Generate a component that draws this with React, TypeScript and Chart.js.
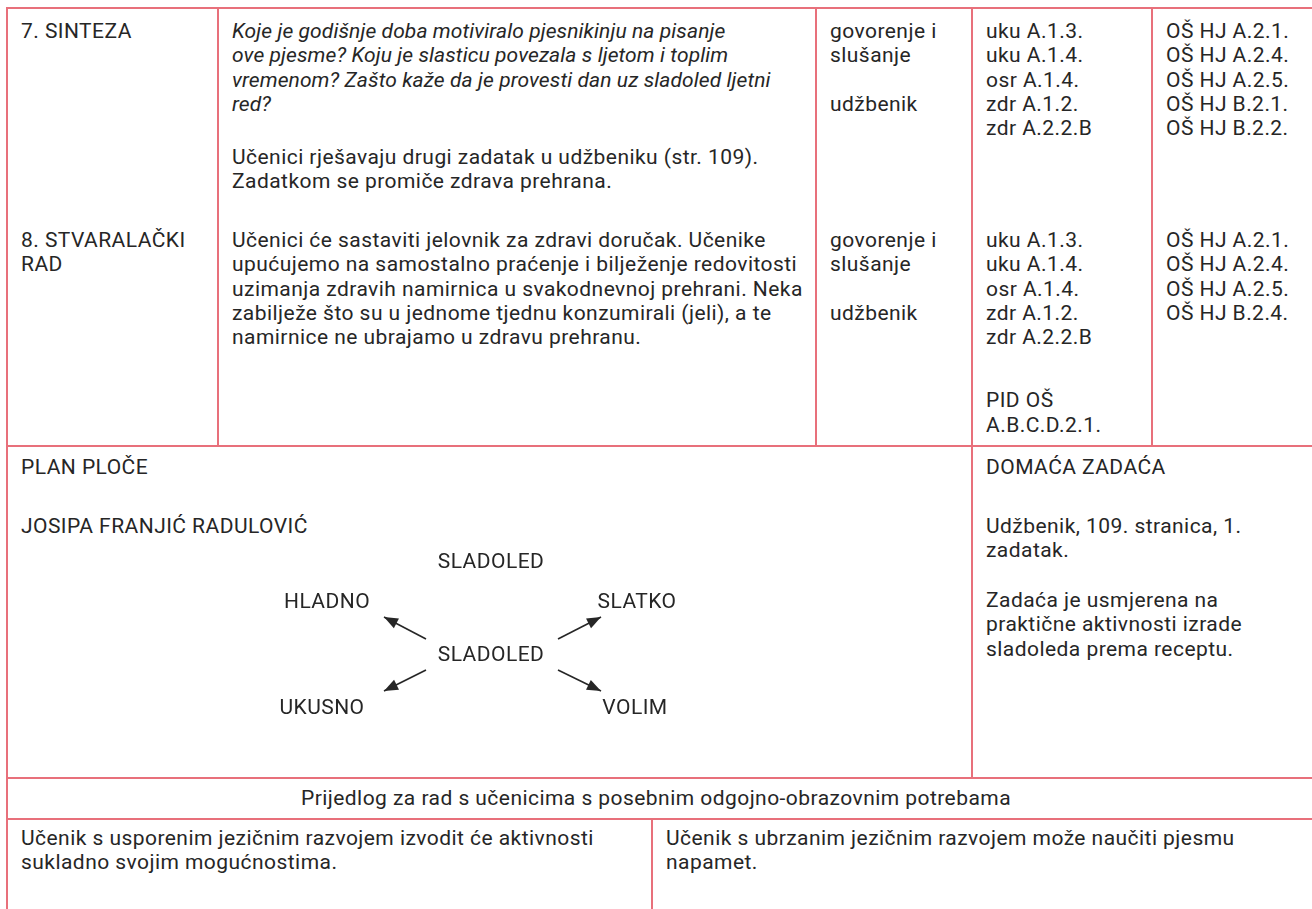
import React, { useEffect, useRef } from "react";
import { Chart, registerables } from "chart.js";

Chart.register(...registerables);

// ---------- text content ----------
const row7Stage = ["7. SINTEZA"];
const row7Questions = [
  "Koje je godišnje doba motiviralo pjesnikinju na pisanje",
  "ove pjesme? Koju je slasticu povezala s ljetom i toplim",
  "vremenom? Zašto kaže da je provesti dan uz sladoled ljetni",
  "red?",
];
const row7Task = [
  "Učenici rješavaju drugi zadatak u udžbeniku (str. 109).",
  "Zadatkom se promiče zdrava prehrana.",
];
const row7Forms = ["govorenje i", "slušanje"];
const row7Media = ["udžbenik"];
const row7Outcomes = ["uku A.1.3.", "uku A.1.4.", "osr A.1.4.", "zdr A.1.2.", "zdr A.2.2.B"];
const row7Standards = ["OŠ HJ A.2.1.", "OŠ HJ A.2.4.", "OŠ HJ A.2.5.", "OŠ HJ B.2.1.", "OŠ HJ B.2.2."];

const row8Stage = ["8. STVARALAČKI", "RAD"];
const row8Activity = [
  "Učenici će sastaviti jelovnik za zdravi doručak. Učenike",
  "upućujemo na samostalno praćenje i bilježenje redovitosti",
  "uzimanja zdravih namirnica u svakodnevnoj prehrani. Neka",
  "zabilježe što su u jednome tjednu konzumirali (jeli), a te",
  "namirnice ne ubrajamo u zdravu prehranu.",
];
const row8Forms = ["govorenje i", "slušanje"];
const row8Media = ["udžbenik"];
const row8Outcomes = ["uku A.1.3.", "uku A.1.4.", "osr A.1.4.", "zdr A.1.2.", "zdr A.2.2.B"];
const row8Outcomes2 = ["PID OŠ", "A.B.C.D.2.1."];
const row8Standards = ["OŠ HJ A.2.1.", "OŠ HJ A.2.4.", "OŠ HJ A.2.5.", "OŠ HJ B.2.4."];

const planTitle = ["PLAN PLOČE"];
const planAuthor = ["JOSIPA FRANJIĆ RADULOVIĆ"];
const homeworkTitle = ["DOMAĆA ZADAĆA"];
const homeworkText1 = ["Udžbenik, 109. stranica, 1.", "zadatak."];
const homeworkText2 = ["Zadaća je usmjerena na", "praktične aktivnosti izrade", "sladoleda prema receptu."];

const needsTitle = "Prijedlog za rad s učenicima s posebnim odgojno-obrazovnim potrebama";
const needsSlow = ["Učenik s usporenim jezičnim razvojem izvodit će aktivnosti", "sukladno svojim mogućnostima."];
const needsFast = ["Učenik s ubrzanim jezičnim razvojem može naučiti pjesmu", "napamet."];

// ---------- board diagram (data units, centre word at 0,0) ----------
const boardWords = ["SLADOLED", "HLADNO", "SLATKO", "SLADOLED", "UKUSNO", "VOLIM"];
const boardX = [0, -16.4, 14.6, 0, -16.9, 14.4];
const boardY = [9.3, 5.3, 5.3, 0, -5.3, -5.3];
const arrowFromX = [-6.5, 6.7, -6.5, 6.7];
const arrowFromY = [1.5, 1.5, -1.6, -1.6];
const arrowToX = [-10.7, 11.0, -10.7, 11.0];
const arrowToY = [3.7, 3.7, -3.7, -3.7];

// ---------- style ----------
const FONT = "Roboto, 'Noto Sans', sans-serif";
const FS = 21;
const LS = 0.45;
const LH = 24.4;
const PGAP = 2 * LH; // one empty line between paragraphs
const INK = "#262626";
const RULE = "#e8707b";

type Para = { lines: string[]; italic?: boolean; gap?: number };

function Block({ x, cy, paras }: { x: number; cy: number; paras: Para[] }) {
  const out: React.ReactNode[] = [];
  let y = cy;
  paras.forEach((p, pi) => {
    if (pi > 0) y += (p.gap ?? PGAP) - LH;
    p.lines.forEach((t, li) => {
      out.push(
        <div
          key={pi + "-" + li}
          style={{
            position: "absolute",
            left: x,
            top: y - LH / 2,
            height: LH,
            lineHeight: LH + "px",
            whiteSpace: "pre",
            fontStyle: p.italic ? "italic" : "normal",
            letterSpacing: p.italic ? "0.1px" : LS + "px",
          }}
        >
          {t}
        </div>
      );
      y += LH;
    });
  });
  return <>{out}</>;
}

function HLine({ y, x1, x2 }: { y: number; x1: number; x2: number }) {
  return <div style={{ position: "absolute", left: x1, top: y - 1, width: x2 - x1, height: 2, background: RULE }} />;
}
function VLine({ x, y1, y2 }: { x: number; y1: number; y2: number }) {
  return <div style={{ position: "absolute", left: x - 1, top: y1, width: 2, height: y2 - y1, background: RULE }} />;
}

function BoardDiagram() {
  const ref = useRef<HTMLCanvasElement | null>(null);
  useEffect(() => {
    if (!ref.current) return;
    const wordData = boardWords.map((w, i) => ({ x: boardX[i], y: boardY[i] }));
    const arrowSets = arrowFromX.map((_, i) => ({
      type: "line" as const,
      data: [
        { x: arrowFromX[i], y: arrowFromY[i] },
        { x: arrowToX[i], y: arrowToY[i] },
      ],
      showLine: true,
      borderColor: INK,
      borderWidth: 1.6,
      pointRadius: 0,
      fill: false,
    }));
    const labelsPlugin = {
      id: "boardLabels",
      afterDatasetsDraw(chart: any) {
        const ctx = chart.ctx;
        const xs = chart.scales.x;
        const ys = chart.scales.y;
        ctx.save();
        ctx.fillStyle = INK;
        arrowFromX.forEach((_, i) => {
          const x0 = xs.getPixelForValue(arrowFromX[i]);
          const y0 = ys.getPixelForValue(arrowFromY[i]);
          const x1 = xs.getPixelForValue(arrowToX[i]);
          const y1 = ys.getPixelForValue(arrowToY[i]);
          const a = Math.atan2(y1 - y0, x1 - x0);
          const L = 14;
          const W = 5.5;
          const bx = x1 - L * Math.cos(a);
          const by = y1 - L * Math.sin(a);
          ctx.beginPath();
          ctx.moveTo(x1, y1);
          ctx.lineTo(bx + W * Math.sin(a), by - W * Math.cos(a));
          ctx.lineTo(bx - W * Math.sin(a), by + W * Math.cos(a));
          ctx.closePath();
          ctx.fill();
        });
        ctx.font = `${FS}px ${FONT}`;
        try {
          (ctx as any).letterSpacing = LS + "px";
        } catch (e) {}
        ctx.textAlign = "center";
        ctx.textBaseline = "alphabetic";
        wordData.forEach((p, i) => {
          const px = xs.getPixelForValue(p.x);
          const py = ys.getPixelForValue(p.y);
          ctx.fillText(boardWords[i], px, py + FS * 0.355);
        });
        ctx.restore();
      },
    };
    const chart = new Chart(ref.current, {
      type: "scatter",
      data: {
        datasets: [
          { type: "scatter", data: wordData, pointRadius: 0, backgroundColor: "transparent" } as any,
          ...(arrowSets as any[]),
        ],
      },
      options: {
        animation: false,
        responsive: false,
        maintainAspectRatio: false,
        events: [],
        layout: { padding: 0 },
        plugins: { legend: { display: false }, tooltip: { enabled: false } },
        scales: {
          x: { type: "linear", min: -24, max: 24, display: false },
          y: { type: "linear", min: -12, max: 12, display: false },
        },
      },
      plugins: [labelsPlugin],
    });
    return () => chart.destroy();
  }, []);
  return (
    <canvas
      ref={ref}
      width={480}
      height={240}
      style={{ position: "absolute", left: 251, top: 534, width: 480, height: 240 }}
    />
  );
}

export default function App() {
  return (
    <div
      style={{
        position: "absolute",
        left: 0,
        top: 0,
        width: 1312,
        height: 909,
        overflow: "hidden",
        background: "#fff",
        fontFamily: FONT,
        fontSize: FS,
        color: INK,
      }}
    >
      {/* grid */}
      <HLine y={8} x1={6} x2={1312} />
      <HLine y={446} x1={6} x2={1312} />
      <HLine y={778} x1={6} x2={1312} />
      <HLine y={819} x1={6} x2={1312} />
      <VLine x={7} y1={7} y2={909} />
      <VLine x={218} y1={7} y2={446} />
      <VLine x={816} y1={7} y2={446} />
      <VLine x={972} y1={7} y2={778} />
      <VLine x={1152} y1={7} y2={446} />
      <VLine x={652} y1={819} y2={909} />

      {/* row 7 */}
      <Block x={21} cy={31} paras={[{ lines: row7Stage }]} />
      <Block x={232} cy={31} paras={[{ lines: row7Questions, italic: true }, { lines: row7Task, gap: 53 }]} />
      <Block x={830} cy={31} paras={[{ lines: row7Forms }, { lines: row7Media }]} />
      <Block x={986} cy={31} paras={[{ lines: row7Outcomes }]} />
      <Block x={1166} cy={31} paras={[{ lines: row7Standards }]} />

      {/* row 8 */}
      <Block x={21} cy={240} paras={[{ lines: row8Stage }]} />
      <Block x={232} cy={240} paras={[{ lines: row8Activity }]} />
      <Block x={830} cy={240} paras={[{ lines: row8Forms }, { lines: row8Media }]} />
      <Block x={986} cy={240} paras={[{ lines: row8Outcomes }, { lines: row8Outcomes2, gap: 63 }]} />
      <Block x={1166} cy={240} paras={[{ lines: row8Standards }]} />

      {/* plan + homework */}
      <Block x={21} cy={467} paras={[{ lines: planTitle }]} />
      <Block x={21} cy={526} paras={[{ lines: planAuthor }]} />
      <Block x={986} cy={467} paras={[{ lines: homeworkTitle }]} />
      <Block x={986} cy={526} paras={[{ lines: homeworkText1 }]} />
      <Block x={986} cy={600} paras={[{ lines: homeworkText2 }]} />
      <BoardDiagram />

      {/* special needs */}
      <div
        style={{
          position: "absolute",
          left: 7,
          width: 1298,
          top: 798.5 - LH / 2,
          height: LH,
          lineHeight: LH + "px",
          textAlign: "center",
          whiteSpace: "pre",
          letterSpacing: LS + "px",
        }}
      >
        {needsTitle}
      </div>
      <Block x={21} cy={838} paras={[{ lines: needsSlow }]} />
      <Block x={666} cy={838} paras={[{ lines: needsFast }]} />
    </div>
  );
}
